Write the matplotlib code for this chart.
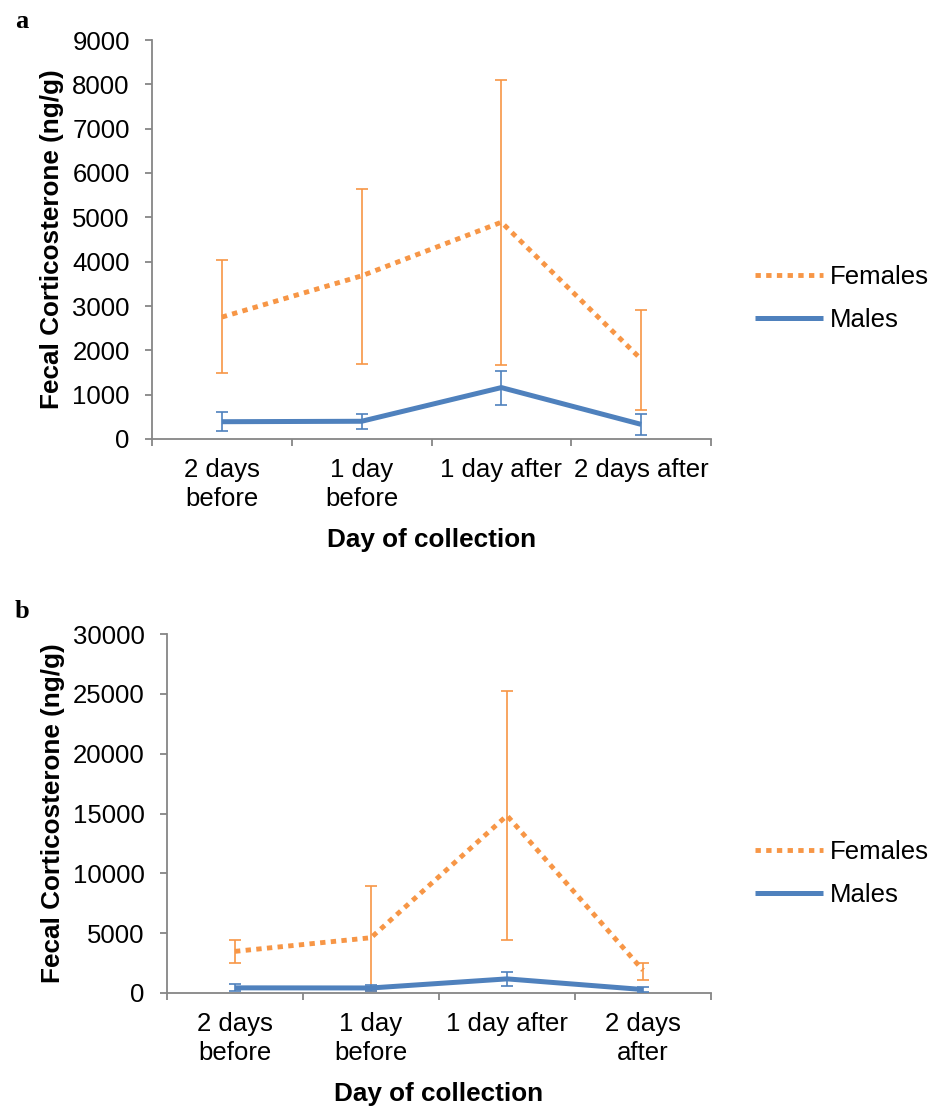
import matplotlib
matplotlib.use("Agg")
import matplotlib.pyplot as plt
import numpy as np

plt.rcParams['font.family'] = ['Liberation Sans', 'DejaVu Sans']

categories_a = ["2 days\nbefore", "1 day\nbefore", "1 day after", "2 days after"]
categories_b = ["2 days\nbefore", "1 day\nbefore", "1 day after", "2 days\nafter"]

# Panel a
fem_a = [2750, 3680, 4890, 1800]
fem_a_hi = [4030, 5630, 8100, 2900]
fem_a_lo = [1480, 1700, 1680, 660]
mal_a = [390, 400, 1160, 330]
mal_a_hi = [600, 560, 1540, 570]
mal_a_lo = [170, 220, 760, 100]

# Panel b
fem_b = [3480, 4620, 14830, 1900]
fem_b_hi = [4400, 8900, 25200, 2480]
fem_b_lo = [2480, 200, 4420, 1080]
mal_b = [430, 420, 1180, 290]
mal_b_hi = [760, 640, 1760, 480]
mal_b_lo = [150, 200, 570, 80]

ORANGE = "#F79646"
BLUE = "#4F81BD"
GRAY = "#868686"
FS = 18.5

fig = plt.figure(figsize=(9.46, 11.10), dpi=100)

def draw(ax, cats, fem, fhi, flo, mal, mhi, mlo, ymax, ystep, legend_y):
    x = np.arange(len(cats)) + 0.5
    fem = np.array(fem); mal = np.array(mal)
    ferr = [fem - np.array(flo), np.array(fhi) - fem]
    merr = [mal - np.array(mlo), np.array(mhi) - mal]
    ax.errorbar(x, fem, yerr=ferr, fmt='none', ecolor=ORANGE, elinewidth=1.2,
                capsize=4.3, capthick=1.2, zorder=2)
    lf, = ax.plot(x, fem, color=ORANGE, lw=3.5, linestyle=(0, (1.1, 1.1)),
                  dash_capstyle='butt', zorder=3, label="Females")
    ax.errorbar(x, mal, yerr=merr, fmt='none', ecolor=BLUE, elinewidth=1.2,
                capsize=4.3, capthick=1.2, zorder=4)
    lm, = ax.plot(x, mal, color=BLUE, lw=3.6, solid_capstyle='butt', zorder=5,
                  label="Males")
    ax.set_xlim(0, len(cats))
    ax.set_ylim(0, ymax)
    ax.set_yticks(np.arange(0, ymax + 1, ystep))
    ax.set_xticks(np.arange(0, len(cats) + 1))
    ax.set_xticklabels([])
    ax.set_xticks(x, minor=True)
    ax.set_xticklabels(cats, minor=True, fontsize=FS, linespacing=1.26)
    ax.tick_params(axis='x', which='minor', length=0, pad=14)
    ax.tick_params(axis='x', which='major', length=5, width=1.3, color=GRAY)
    ax.tick_params(axis='y', length=5, width=1.3, color=GRAY, labelsize=FS, pad=11)
    for s in ['top', 'right']:
        ax.spines[s].set_visible(False)
    for s in ['left', 'bottom']:
        ax.spines[s].set_color(GRAY)
        ax.spines[s].set_linewidth(1.3)
    ax.set_ylabel("Fecal Corticosterone (ng/g)", fontsize=18.8, fontweight='bold', labelpad=6)
    ax.set_xlabel("Day of collection", fontsize=18.8, fontweight='bold', labelpad=12)
    fig.legend(handles=[lf, lm], loc='center left', bbox_to_anchor=(745 / 946, legend_y),
               bbox_transform=fig.transFigure, borderaxespad=0,
               frameon=False, fontsize=FS, handlelength=2.65, handletextpad=0.27,
               labelspacing=0.75)

ax_a = fig.add_axes([152 / 946, 1 - 439 / 1110, 559 / 946, 399 / 1110])
draw(ax_a, categories_a, fem_a, fem_a_hi, fem_a_lo, mal_a, mal_a_hi, mal_a_lo,
     9000, 1000, 1 - 298.5 / 1110)
ax_b = fig.add_axes([167 / 946, 1 - 993 / 1110, 544 / 946, 359 / 1110])
draw(ax_b, categories_b, fem_b, fem_b_hi, fem_b_lo, mal_b, mal_b_hi, mal_b_lo,
     30000, 5000, 1 - 873.5 / 1110)

fig.text(15 / 946, 1 - 22 / 1110, "a", fontsize=19, fontweight='bold',
         family=['Liberation Serif', 'DejaVu Serif'], va='center', ha='left')
fig.text(15 / 946, 1 - 612 / 1110, "b", fontsize=19, fontweight='bold',
         family=['Liberation Serif', 'DejaVu Serif'], va='center', ha='left')

fig.savefig("out.png", dpi=100)
